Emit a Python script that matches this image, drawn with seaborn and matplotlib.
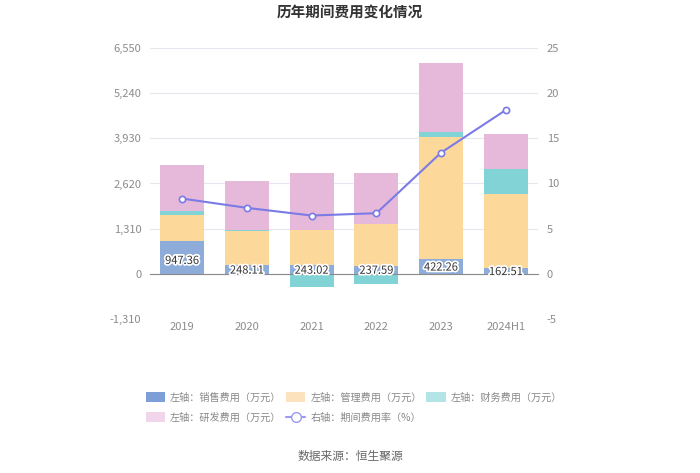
import numpy as np
import pandas as pd
import seaborn as sns
import matplotlib.pyplot as plt
import matplotlib.patheffects as pe
from matplotlib.patches import Patch
from matplotlib.lines import Line2D

years = ['2019', '2020', '2021', '2022', '2023', '2024H1']
sales = [947.36, 248.11, 243.02, 237.59, 422.26, 162.51]
mgmt = [763, 1000, 1032, 1220, 3557, 2147]
fin = [124, 28, -385, -300, 145, 724]
rd = [1325, 1430, 1661, 1469, 1982, 1015]
rate = [8.33, 7.30, 6.45, 6.71, 13.42, 18.14]

names = ['左轴：销售费用（万元）', '左轴：管理费用（万元）', '左轴：财务费用（万元）', '左轴：研发费用（万元）']
line_name = '右轴：期间费用率（%）'
colors = ['#8eacd9', '#fdd89b', '#81d3d6', '#e6b9da']
legend_colors = ['#7d9ed6', '#fde3bd', '#b3e5e7', '#f1d5eb']
line_color = '#7b7be6'

sns.set_style("white")
plt.rcParams['font.family'] = ['Noto Sans CJK SC', 'DejaVu Sans']
plt.rcParams['axes.unicode_minus'] = False

fig = plt.figure(figsize=(7, 4.73), dpi=100)
ax = fig.add_axes([0.214, 0.3256, 0.555, 0.573])

# stacked bars, negatives stack below zero like echarts
pos_base = np.zeros(len(years))
neg_base = np.zeros(len(years))
for vals, c in zip([sales, mgmt, fin, rd], colors):
    vals = np.array(vals, dtype=float)
    bottom = np.where(vals >= 0, pos_base, neg_base)
    df = pd.DataFrame({'year': years, 'val': vals})
    sns.barplot(data=df, x='year', y='val', order=years, color=c, width=0.68,
                bottom=bottom, saturation=1, linewidth=0, ax=ax)
    pos_base = pos_base + np.where(vals >= 0, vals, 0)
    neg_base = neg_base + np.where(vals < 0, vals, 0)

for i, v in enumerate(sales):
    ax.text(i, v / 2 - 100 if v > 500 else v / 2 - 30, f'{v:.2f}', ha='center', va='center',
            fontsize=8, color='#333333',
            path_effects=[pe.withStroke(linewidth=2.5, foreground='white')])

ax.set_ylim(-1310, 6550)
ax.set_yticks([-1310, 0, 1310, 2620, 3930, 5240, 6550])
ax.set_yticklabels(['-1,310', '0', '1,310', '2,620', '3,930', '5,240', '6,550'])
ax.set_xlim(-0.5, len(years) - 0.5)
ax.set_xlabel('')
ax.set_ylabel('')
ax.grid(axis='y', color='#e6e6ee', linewidth=0.8)
ax.set_axisbelow(True)
for s in ['top', 'left', 'right']:
    ax.spines[s].set_visible(False)
ax.spines['bottom'].set_position(('data', 0))
ax.spines['bottom'].set_color('#8a8a8a')
ax.tick_params(axis='x', length=4, color='#8a8a8a', pad=31, labelsize=8, labelcolor='#8c8c8c')
ax.tick_params(axis='y', length=0, pad=6, labelsize=8, labelcolor='#8c8c8c')

ax2 = ax.twinx()
sns.lineplot(x=np.arange(len(years)), y=rate, color=line_color, linewidth=1.5,
             marker='o', markersize=4.5, markerfacecolor='white',
             markeredgecolor=line_color, markeredgewidth=1.2, ax=ax2)
ax2.set_ylim(-5, 25)
ax2.set_yticks([-5, 0, 5, 10, 15, 20, 25])
for s in ['top', 'left', 'right', 'bottom']:
    ax2.spines[s].set_visible(False)
ax2.tick_params(axis='y', length=0, pad=6, labelsize=8, labelcolor='#8c8c8c')
ax2.set_ylabel('')

handles = [Patch(facecolor=c, edgecolor='none') for c in legend_colors]
handles.append(Line2D([0], [0], color='#9a9af0', linewidth=1.5, marker='o', markersize=7,
                      markerfacecolor='white', markeredgecolor='#9a9af0'))
labels = names + [line_name]
order = [0, 3, 1, 4, 2]
fig.legend([handles[i] for i in order], [labels[i] for i in order],
           loc='upper left', bbox_to_anchor=(0.201, 0.181), ncol=3, frameon=False,
           fontsize=7.3, labelcolor='#888888', handlelength=1.9, handleheight=1.1,
           columnspacing=0.45, handletextpad=0.5, labelspacing=0.95, borderpad=0)

fig.text(0.5, 0.973, '历年期间费用变化情况', ha='center', va='center',
         fontsize=10.5, fontweight='bold', color='#333333')
fig.text(0.5, 0.034, '数据来源：恒生聚源', ha='center', va='center',
         fontsize=8.5, color='#666666')

fig.savefig('out.png', dpi=100)
